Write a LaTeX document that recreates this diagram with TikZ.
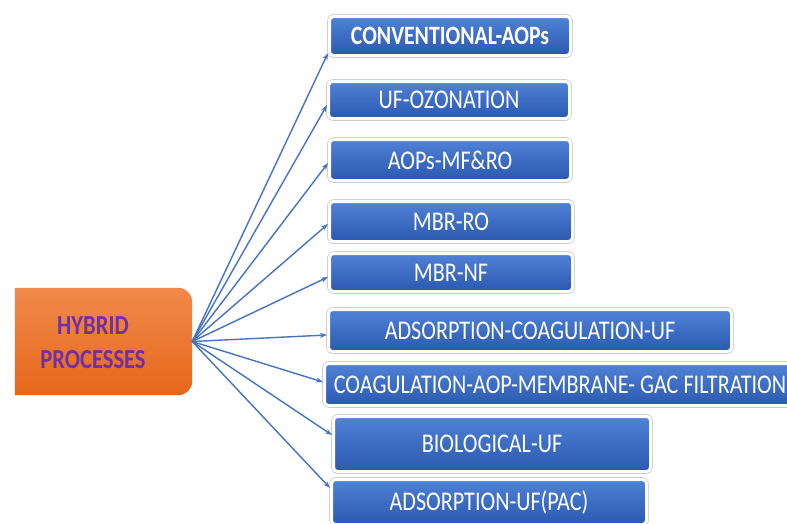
\documentclass[tikz,border=0pt]{standalone}
\usepackage{fontspec}
\setmainfont{Carlito}[FakeStretch=0.82]
\usetikzlibrary{arrows.meta,shadows}
\definecolor{arrowblue}{HTML}{4472C4}
\definecolor{boxtop}{HTML}{4F82D6}
\definecolor{boxbot}{HTML}{2B58B0}
\definecolor{orgtop}{HTML}{F08A4C}
\definecolor{orgbot}{HTML}{E6671A}
\definecolor{hpurple}{HTML}{7030A0}
\tikzset{
  procbox/.style={rectangle, rounded corners=4pt, top color=boxtop, bottom color=boxbot,
    draw=white, line width=3pt, text=white, inner sep=0pt,
    preaction={draw=gray!38, line width=4.6pt},
    drop shadow={shadow xshift=0pt, shadow yshift=-2pt, opacity=0.22},
    font=\fontsize{27}{32}\selectfont},
  link/.style={draw=arrowblue, line width=1.4pt, -{Stealth[length=7pt,width=5pt]}}
}
\begin{document}
\begin{tikzpicture}[x=1pt,y=-1pt]
\useasboundingbox[fill=white] (0,0) rectangle (787,523);
% orange hub box
\node[minimum width=177pt, minimum height=107pt, inner sep=0pt] (hp) at (103.5,341.5) {};
\shade[top color=orgtop, bottom color=orgbot]
  (hp.north west) -- ([xshift=-14pt]hp.north east)
  arc[start angle=-90, end angle=0, radius=14]
  -- ([yshift=14pt]hp.south east)
  arc[start angle=0, end angle=90, radius=14]
  -- (hp.south west) -- cycle;
\node[text=hpurple, align=center, font=\bfseries\fontsize{27.5}{34}\selectfont] (hptext) at (93,343) {HYBRID\\PROCESSES};
% process boxes
\node[procbox, minimum width=241pt, minimum height=39pt, font=\bfseries\fontsize{26.5}{32}\selectfont] (b1) at (450,36) {CONVENTIONAL-AOPs};
\node[procbox, minimum width=241pt, minimum height=37pt] (b2) at (449,100) {UF-OZONATION};
\node[procbox, minimum width=241pt, minimum height=41pt] (b3) at (450,160) {AOPs-MF\&RO};
\node[procbox, minimum width=243pt, minimum height=40pt] (b4) at (451,221.5) {MBR-RO};
\node[procbox, minimum width=243pt, minimum height=38pt] (b5) at (451,272.5) {MBR-NF};
\node[procbox, minimum width=403pt, minimum height=42pt] (b6) at (530,330.5) {ADSORPTION-COAGULATION-UF};
\node[procbox, minimum width=471pt, minimum height=42pt] (b7) at (560,384.5) {COAGULATION-AOP-MEMBRANE- GAC FILTRATION};
\node[procbox, minimum width=317pt, minimum height=55pt] (b8) at (492,444) {BIOLOGICAL-UF};
\node[procbox, minimum width=315pt, minimum height=45pt] (b9) at (489,502) {ADSORPTION-UF(PAC)};
% connectors
\path[link] (hp.east) -- ([yshift=-17pt]b1.west);
\path[link] (hp.east) -- ([yshift=-5pt]b2.west);
\path[link] (hp.east) -- ([yshift=-3pt]b3.west);
\path[link] (hp.east) -- ([yshift=-2.5pt]b4.west);
\path[link] (hp.east) -- ([yshift=-4.5pt]b5.west);
\path[link] (hp.east) -- ([yshift=-4.5pt]b6.west);
\path[link] (hp.east) -- ([yshift=2.5pt]b7.west);
\path[link] (hp.east) -- ([yshift=9pt]b8.west);
\path[link] (hp.east) -- ([yshift=14pt]b9.west);
\end{tikzpicture}
\end{document}
